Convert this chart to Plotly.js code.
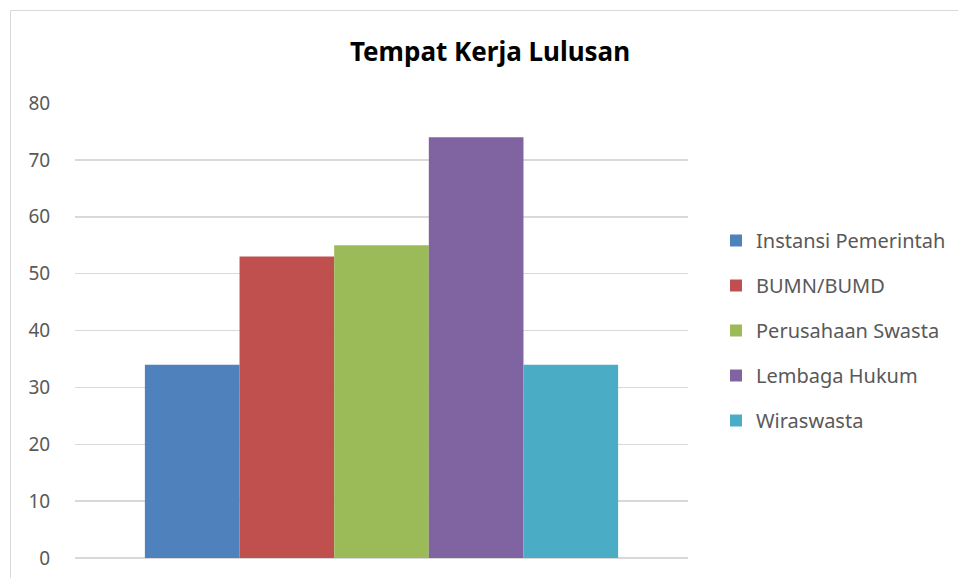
<!DOCTYPE html>
<html>
<head>
<meta charset="utf-8">
<script src="https://cdn.plot.ly/plotly-3.0.1.min.js"></script>
<style>html,body{margin:0;padding:0;background:#fff;}#chart{width:958px;height:578px;}</style>
</head>
<body>
<div id="chart"></div>
<script>
const categories = ["Instansi Pemerintah", "BUMN/BUMD", "Perusahaan Swasta", "Lembaga Hukum", "Wiraswasta"];
const values = [34, 53, 55, 74, 34];
const colors = ["#4F81BD", "#C0504D", "#9BBB59", "#8064A2", "#4BACC6"];
const yTicks = [0, 10, 20, 30, 40, 50, 60, 70, 80];
const groupLabel = ["Tempat Kerja"];

const traces = categories.map((name, i) => ({
  type: "bar",
  name: name,
  x: groupLabel,
  y: [values[i]],
  marker: {color: colors[i], line: {width: 0}},
  legendgroup: "g" + i,
  hoverinfo: "name+y"
}));

const layout = {
  width: 958, height: 578,
  paper_bgcolor: "#fff", plot_bgcolor: "#fff",
  margin: {l: 75, r: 270, t: 103, b: 20, autoexpand: false},
  font: {family: "Noto Sans, Open Sans, sans-serif", color: "#595959"},
  title: {
    text: "<b>Tempat Kerja Lulusan</b>",
    font: {family: "Noto Sans, sans-serif", size: 26, color: "#000"},
    x: 490/958, xanchor: "center", xref: "container",
    y: 1 - 52/578, yanchor: "middle", yref: "container"
  },
  barmode: "group",
  bargap: 0.228,
  bargroupgap: 0,
  xaxis: {showticklabels: false, ticks: "", showgrid: false, zeroline: false,
          showline: false, fixedrange: true},
  yaxis: {range: [0, 80], tickvals: yTicks, showgrid: true, gridcolor: "#d9d9d9", gridwidth: 1.5,
          zeroline: true, zerolinecolor: "#d9d9d9", zerolinewidth: 1.5, showline: false,
          ticks: "outside", ticklen: 20, tickcolor: "rgba(0,0,0,0)",
          tickfont: {size: 19, color: "#595959"}},
  legend: {x: (716-75)/613, xanchor: "left", y: (558-221)/455, yanchor: "top",
           font: {size: 20, color: "#595959"}, tracegroupgap: 16, traceorder: "grouped",
           itemwidth: 30},
  showlegend: true,
  shapes: [{type: "rect", xref: "paper", yref: "paper",
            x0: (10.5-75)/613, x1: (990-75)/613, y0: (558-600)/455, y1: (558-10.5)/455,
            line: {color: "#d9d9d9", width: 1}, fillcolor: "rgba(0,0,0,0)", layer: "below"}]
};

Plotly.newPlot("chart", traces, layout, {displayModeBar: false, staticPlot: true});
</script>
</body>
</html>
